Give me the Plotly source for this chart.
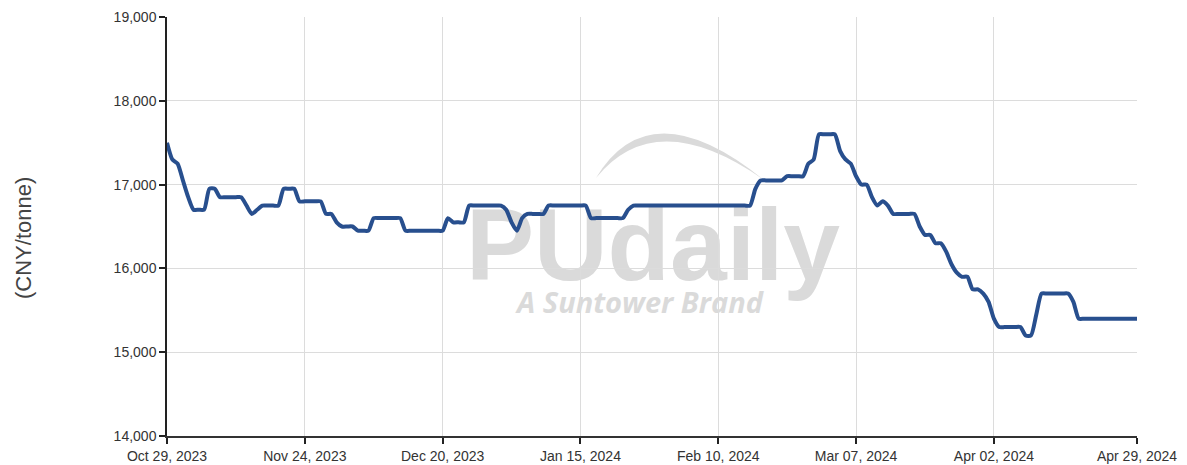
import pandas as pd
import plotly.graph_objects as go

start_date = "2023-10-29"
prices = [
    17500, 17300, 17250, 17050, 16850, 16700, 16700, 16700, 16950, 16950,
    16850, 16850, 16850, 16850, 16850, 16750, 16650, 16700, 16750, 16750,
    16750, 16750, 16950, 16950, 16950, 16800, 16800, 16800, 16800, 16800,
    16650, 16650, 16550, 16500, 16500, 16500, 16450, 16450, 16450, 16600,
    16600, 16600, 16600, 16600, 16600, 16450, 16450, 16450, 16450, 16450,
    16450, 16450, 16450, 16600, 16550, 16550, 16550, 16750, 16750, 16750,
    16750, 16750, 16750, 16750, 16700, 16550, 16450, 16600, 16650, 16650,
    16650, 16650, 16750, 16750, 16750, 16750, 16750, 16750, 16750, 16750,
    16600, 16600, 16600, 16600, 16600, 16600, 16600, 16700, 16750, 16750,
    16750, 16750, 16750, 16750, 16750, 16750, 16750, 16750, 16750, 16750,
    16750, 16750, 16750, 16750, 16750, 16750, 16750, 16750, 16750, 16750,
    16750, 16950, 17050, 17050, 17050, 17050, 17050, 17100, 17100, 17100,
    17100, 17250, 17300, 17600, 17600, 17600, 17600, 17400, 17300, 17250,
    17100, 17000, 17000, 16850, 16750, 16800, 16750, 16650, 16650, 16650,
    16650, 16650, 16500, 16400, 16400, 16300, 16300, 16200, 16050, 15950,
    15900, 15900, 15750, 15750, 15700, 15600, 15400, 15300, 15300, 15300,
    15300, 15300, 15200, 15200, 15450, 15700, 15700, 15700, 15700, 15700,
    15700, 15600, 15400, 15400, 15400, 15400, 15400, 15400, 15400, 15400,
    15400, 15400, 15400, 15400,
]
dates = pd.date_range(start_date, periods=len(prices), freq="D")

tick_dates = ["2023-10-29", "2023-11-24", "2023-12-20", "2024-01-15",
              "2024-02-10", "2024-03-07", "2024-04-02", "2024-04-29"]
tick_labels = ["Oct 29, 2023", "Nov 24, 2023", "Dec 20, 2023", "Jan 15, 2024",
               "Feb 10, 2024", "Mar 07, 2024", "Apr 02, 2024", "Apr 29, 2024"]
y_ticks = [14000, 15000, 16000, 17000, 18000, 19000]
y_title = "(CNY/tonne)"

# page has an 8px body margin; figure sized to fit the 1187x465 window
OFF = 8
W, H = 1187 - OFF, 465 - OFF
# plot area in window pixels: x 167..1137, y 17..436
PX0, PX1, PY0, PY1 = 167, 1137, 17, 436
L, R = PX0 - OFF, W - (PX1 - OFF)
T, B = PY0 - OFF, H - (PY1 - OFF)
PW, PH = PX1 - PX0, PY1 - PY0


def px(x):
    return (x - PX0) / PW


def py(y):
    return (PY1 - y) / PH


wm_color = "#dadada"

fig = go.Figure()
fig.add_trace(go.Scatter(
    x=dates, y=prices, mode="lines",
    line=dict(color="#284f8e", width=4, shape="spline", smoothing=0.6),
    hoverinfo="skip", showlegend=False,
))

shapes = [
    dict(type="rect", xref="paper", yref="paper", layer="below",
         x0=px(450), x1=px(856), y0=py(282), y1=py(188),
         line=dict(width=0), fillcolor="rgba(0,0,0,0)",
         label=dict(text="<b>PUdaily</b>", textposition="middle center",
                    font=dict(family="Liberation Sans", size=102, color=wm_color))),
    dict(type="rect", xref="paper", yref="paper", layer="below",
         x0=px(480), x1=px(800), y0=py(318), y1=py(288),
         line=dict(width=0), fillcolor="rgba(0,0,0,0)",
         label=dict(text="<b><i>A Suntower Brand</i></b>", textposition="middle center",
                    font=dict(family="Open Sans", size=29, color=wm_color))),
    dict(type="path", xref="paper", yref="paper", layer="below",
         path=(f"M {px(596)},{py(178)} Q {px(650)},{py(88)} {px(764)},{py(180)} "
               f"Q {px(656)},{py(104)} {px(596)},{py(178)} Z"),
         line=dict(width=0), fillcolor=wm_color),
]

fig.update_layout(
    width=W, height=H,
    margin=dict(l=L, r=R, t=T, b=B, pad=0, autoexpand=False),
    paper_bgcolor="white", plot_bgcolor="white",
    font=dict(family="Liberation Sans, Arial, sans-serif", size=14, color="#333333"),
    shapes=shapes,
    annotations=[dict(
        text=y_title, xref="paper", yref="paper",
        x=px(24), y=py(238), xanchor="center", yanchor="middle",
        textangle=-90, showarrow=False,
        font=dict(family="Liberation Sans, Arial, sans-serif", size=22, color="#444444"),
    )],
)
fig.update_xaxes(
    type="date", range=[tick_dates[0], tick_dates[-1]],
    tickvals=tick_dates, ticktext=tick_labels, automargin=False,
    showgrid=True, gridcolor="#dcdcdc", gridwidth=1,
    showline=True, linecolor="#333333", linewidth=2,
    ticks="outside", ticklen=6, tickwidth=1.5, tickcolor="#222222",
    zeroline=False, fixedrange=True,
)
fig.update_yaxes(
    range=[14000, 19000], tickvals=y_ticks, tickformat=",", automargin=False,
    showgrid=True, gridcolor="#dcdcdc", gridwidth=1,
    showline=True, linecolor="#222222", linewidth=1.5,
    ticks="outside", ticklen=6, tickwidth=1.5, tickcolor="#222222",
    zeroline=False, fixedrange=True,
)

fig.write_html("out.html")
